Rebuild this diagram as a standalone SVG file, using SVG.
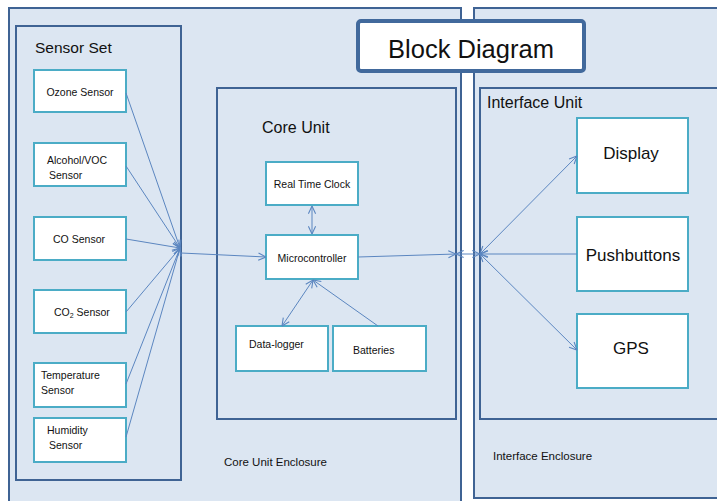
<svg xmlns="http://www.w3.org/2000/svg" width="717" height="501" viewBox="0 0 717 501">
<defs>
<marker id="ah" viewBox="0 0 10 10" refX="9.5" refY="5" markerWidth="9" markerHeight="9" markerUnits="userSpaceOnUse" orient="auto-start-reverse">
<path d="M1,1 L9.5,5 L1,9" fill="none" stroke="#5b86c0" stroke-width="1.2"/>
</marker>
<style>
.encl{fill:#dce6f2;stroke:#3f6394;stroke-width:2}
.unit{fill:#dce6f2;stroke:#3f6394;stroke-width:2}
.node{fill:#ffffff;stroke:#4bacc6;stroke-width:2}
.t{font-family:"Liberation Sans",Arial,sans-serif;fill:#111}
.s{font-size:10.5px}
.l{font-size:17px}
.c{text-anchor:middle}
.con{fill:none;stroke:#5b86c0;stroke-width:1}
</style>
</defs>
<rect width="717" height="501" fill="#ffffff"/>
<g id="core-enclosure">
<rect class="encl" x="9" y="8" width="452" height="510"/>
<text class="t" x="224" y="466" font-size="11.5px">Core Unit Enclosure</text>
</g>
<g id="interface-enclosure">
<rect class="encl" x="474" y="8" width="260" height="490"/>
<text class="t" x="493" y="460" font-size="11.5px">Interface Enclosure</text>
</g>
<g id="sensor-set">
<rect class="unit" x="16" y="26" width="165" height="454"/>
<text class="t" x="35" y="53" font-size="15.5px">Sensor Set</text>
</g>
<g id="core-unit">
<rect class="unit" x="217" y="88" width="239" height="331"/>
<text class="t" x="262" y="133" font-size="16px">Core Unit</text>
</g>
<g id="interface-unit">
<rect class="unit" x="480" y="88" width="250" height="331"/>
<text class="t" x="487" y="108" font-size="16px">Interface Unit</text>
</g>
<g id="title">
<rect x="358" y="21" width="226" height="50" rx="3" fill="#ffffff" stroke="#41699c" stroke-width="4"/>
<text class="t c" x="471" y="58" font-size="25.5px">Block Diagram</text>
</g>
<g id="ozone">
<rect class="node" x="34" y="70" width="92" height="42"/>
<text class="t s c" x="80" y="96">Ozone Sensor</text>
</g>
<g id="alcohol">
<rect class="node" x="34" y="143" width="92" height="43"/>
<text class="t s" x="47" y="164">Alcohol/VOC</text>
<text class="t s" x="49" y="179">Sensor</text>
</g>
<g id="co">
<rect class="node" x="34" y="217" width="92" height="43"/>
<text class="t s c" x="79" y="243">CO Sensor</text>
</g>
<g id="co2">
<rect class="node" x="34" y="290" width="92" height="43"/>
<text class="t s" x="54" y="316">CO<tspan font-size="7px" dy="2">2</tspan><tspan dy="-2"> Sensor</tspan></text>
</g>
<g id="temperature">
<rect class="node" x="34" y="363" width="92" height="44"/>
<text class="t s" x="41" y="379">Temperature</text>
<text class="t s" x="41" y="394">Sensor</text>
</g>
<g id="humidity">
<rect class="node" x="34" y="418" width="92" height="44"/>
<text class="t s" x="47" y="434">Humidity</text>
<text class="t s" x="49" y="449">Sensor</text>
</g>
<g id="rtc">
<rect class="node" x="266" y="162" width="92" height="43"/>
<text class="t s c" x="312" y="188">Real Time Clock</text>
</g>
<g id="microcontroller">
<rect class="node" x="266" y="235" width="92" height="44"/>
<text class="t s c" x="312" y="262">Microcontroller</text>
</g>
<g id="datalogger">
<rect class="node" x="236" y="326" width="92" height="45"/>
<text class="t s" x="249" y="348">Data-logger</text>
</g>
<g id="batteries">
<rect class="node" x="333" y="326" width="93" height="45"/>
<text class="t s" x="353" y="354">Batteries</text>
</g>
<g id="display">
<rect class="node" x="577" y="118" width="111" height="75"/>
<text class="t l c" x="631" y="159">Display</text>
</g>
<g id="pushbuttons">
<rect class="node" x="577" y="217" width="111" height="74"/>
<text class="t l c" x="633" y="261">Pushbuttons</text>
</g>
<g id="gps">
<rect class="node" x="577" y="314" width="111" height="74"/>
<text class="t l c" x="631" y="354">GPS</text>
</g>
<g id="connectors">
<line class="con" x1="126" y1="93" x2="180" y2="248" marker-end="url(#ah)"/>
<line class="con" x1="126" y1="166" x2="180" y2="248" marker-end="url(#ah)"/>
<line class="con" x1="126" y1="239" x2="180" y2="248" marker-end="url(#ah)"/>
<line class="con" x1="126" y1="312" x2="180" y2="248" marker-end="url(#ah)"/>
<line class="con" x1="126" y1="384" x2="180" y2="248" marker-end="url(#ah)"/>
<line class="con" x1="126" y1="437" x2="180" y2="248" marker-end="url(#ah)"/>
<line class="con" x1="181" y1="253" x2="266" y2="257" marker-end="url(#ah)"/>
<line class="con" x1="312" y1="206" x2="312" y2="234" marker-start="url(#ah)" marker-end="url(#ah)"/>
<line class="con" x1="313" y1="280" x2="282" y2="326" marker-start="url(#ah)" marker-end="url(#ah)"/>
<line class="con" x1="378" y1="326" x2="313" y2="280" marker-end="url(#ah)"/>
<line class="con" x1="358" y1="257" x2="456" y2="254" marker-end="url(#ah)"/>
<line class="con" x1="456" y1="254" x2="480" y2="254" marker-start="url(#ah)" marker-end="url(#ah)"/>
<line class="con" x1="480" y1="254" x2="577" y2="156" marker-start="url(#ah)" marker-end="url(#ah)"/>
<line class="con" x1="577" y1="254" x2="480" y2="254" marker-end="url(#ah)"/>
<line class="con" x1="480" y1="254" x2="577" y2="350" marker-start="url(#ah)" marker-end="url(#ah)"/>
</g>
</svg>
